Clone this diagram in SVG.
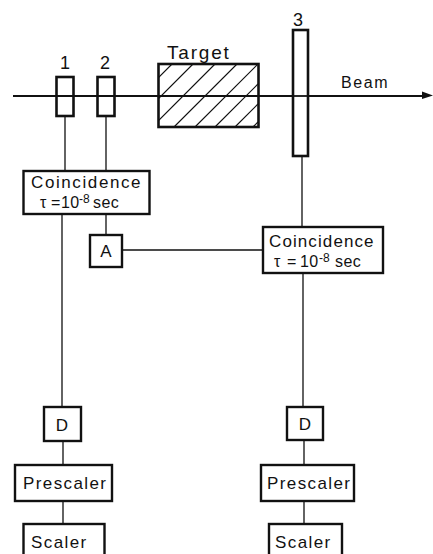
<svg xmlns="http://www.w3.org/2000/svg" width="433" height="554" viewBox="0 0 433 554">
<style>
.b{fill:#fff;stroke:#111;stroke-width:2.4}
.h{fill:none;stroke:#111;stroke-width:2.6}
.c{fill:none;stroke:#111;stroke-width:1.3}
.beam{fill:none;stroke:#111;stroke-width:1.8}
.s{fill:none;stroke:#111;stroke-width:1.2}
text{font-family:"Liberation Sans",Arial,sans-serif;font-size:17px;fill:#111;letter-spacing:1.4px}
.m{text-anchor:middle}
.k{font-size:17px;letter-spacing:1.6px}
.t{font-size:16px;letter-spacing:.4px}
.e{font-size:12px;letter-spacing:0}
</style>
<defs><clipPath id="tc"><rect x="158" y="64" width="100" height="63"/></clipPath></defs>
<rect width="433" height="554" fill="#fff"/>
<g id="target"><g clip-path="url(#tc)" class="s"><path d="M172 64L158 78M193 64L158 99M215 64L158 121M237 64L174 127M258 64L195 127M258 84L215 127M258 104L235 127M258 122L253 127"/></g><rect class="h" x="158.500" y="64" width="100" height="63"/><text x="167" y="59" style="font-size:19px;letter-spacing:1.8px">Target</text></g>
<g id="connectors">
<path class="beam" d="M13 96H424"/><path d="M422 91.500L433 95.500L422 99Z" fill="#111"/>
<path class="c" d="M65 116V171M106 116V171M302 156V227M62 214V407M106 214V235M122 250H263M303 273V407M63 441V465M304 440V465M63 501V524M304 501V524"/>
</g>
<g id="det1"><rect class="h" x="56.500" y="77" width="17" height="39"/><path class="beam" d="M56 96H74"/><text class="m" x="65" y="69" style="font-size:18px;letter-spacing:0">1</text></g>
<g id="det2"><rect class="h" x="97.500" y="77" width="17" height="39"/><path class="beam" d="M97 96H115"/><text class="m" x="105" y="69" style="font-size:18px;letter-spacing:0">2</text></g>
<g id="det3"><rect fill="#fff" stroke="#111" stroke-width="2.6" x="293" y="30" width="15" height="126"/><path class="beam" d="M292 96H309"/><text class="m" x="298" y="26" style="font-size:18px;letter-spacing:0">3</text></g>
<g id="coinc1"><rect class="b" x="23.500" y="171" width="126" height="43"/><text class="k" x="31" y="188">Coincidence</text><text class="t" y="208"><tspan x="40">τ</tspan><tspan x="51">=</tspan><tspan x="61">10</tspan><tspan class="e" x="79" dy="-5">-8</tspan><tspan x="93" dy="5">sec</tspan></text></g>
<g id="coinc2"><rect class="b" x="263" y="227" width="120" height="46"/><text class="k" x="269" y="247" style="letter-spacing:1.1px">Coincidence</text><text class="t" y="267"><tspan x="274">τ</tspan><tspan x="287">=</tspan><tspan x="300">10</tspan><tspan class="e" x="319" dy="-5">-8</tspan><tspan x="335" dy="5">sec</tspan></text></g>
<g id="a"><rect class="b" x="90" y="235" width="32" height="32"/><text class="m" x="106" y="257" style="letter-spacing:0">A</text></g>
<g id="d1"><rect class="b" x="44" y="407" width="37" height="34"/><text class="m" x="62" y="431" style="letter-spacing:0">D</text></g>
<g id="d2"><rect class="b" x="287" y="407" width="36" height="33"/><text class="m" x="305" y="430" style="letter-spacing:0">D</text></g>
<g id="pre1"><rect class="b" x="15" y="465" width="97" height="36"/><text x="23" y="489">Prescaler</text></g>
<g id="pre2"><rect class="b" x="261" y="465" width="93" height="36"/><text x="267" y="489">Prescaler</text></g>
<g id="sc1"><rect class="b" x="23.500" y="524" width="81" height="40"/><text x="31" y="548">Scaler</text></g>
<g id="sc2"><rect class="b" x="269" y="524" width="73" height="40"/><text x="275" y="548">Scaler</text></g>
<text x="341" y="88" style="font-size:16px;letter-spacing:1.6px">Beam</text>
</svg>
